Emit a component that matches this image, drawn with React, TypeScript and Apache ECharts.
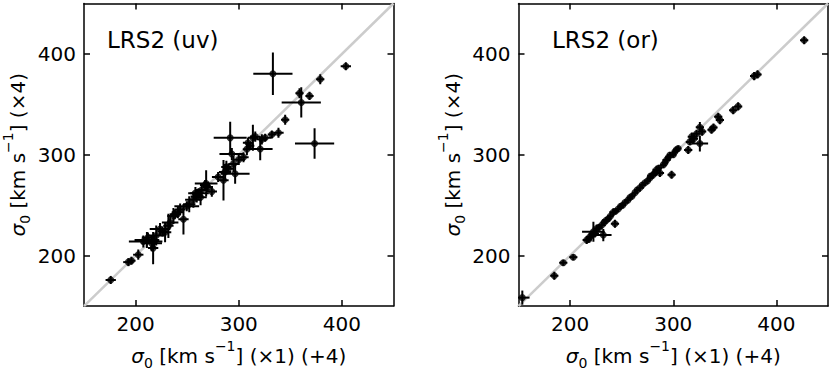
import React, { useEffect, useRef } from "react";
import * as echarts from "echarts";

// LRS2 (uv): [x, y, xErr, yErr]
const uvPoints: number[][] = [
  [175.9, 175.9, 5, 4], [193, 193.6, 5, 4], [196, 195, 4, 4], [202.6, 201, 5, 5],
  [207.5, 214, 14, 6], [211, 215.5, 12, 8], [215.6, 212.4, 10, 8], [217, 207.5, 5, 16],
  [220, 220, 8, 10], [223.7, 226.4, 10, 6], [228.6, 223.2, 6, 10], [231.8, 229.6, 5, 12],
  [233.5, 232.9, 8, 6], [236.7, 239.3, 6, 8], [243.2, 245.8, 5, 6], [246.4, 236.1, 5, 15],
  [249.6, 249, 12, 5], [256, 255.5, 8, 8], [259.3, 258.7, 6, 6], [261, 261.9, 10, 5],
  [264.1, 265.1, 6, 6], [267.4, 270, 5, 5], [268.4, 271.6, 11, 13], [273.9, 263.5, 5, 5],
  [285.2, 274.8, 5, 20], [286.8, 282.9, 6, 8], [290, 286.2, 5, 5], [293.3, 300.7, 12, 6],
  [294.9, 291, 5, 8], [296.5, 281.3, 14, 10], [291.7, 316.8, 16, 16], [304.6, 297.5, 5, 5],
  [307.9, 305.6, 4, 6], [311.1, 308.9, 4, 4], [313.7, 316.9, 5, 13], [320.8, 305.7, 12, 11],
  [322.4, 315.3, 5, 5], [325.6, 316.9, 6, 4], [332.1, 320.2, 4, 4], [338.5, 321.8, 5, 5],
  [345, 334.7, 4, 5], [333.1, 380.4, 19, 21], [358.9, 361, 4, 5], [360.6, 351.9, 19, 15],
  [368.6, 358.4, 4, 4], [373.5, 311.2, 19, 15], [379, 374.9, 4, 5], [403.8, 387.8, 5, 4],
  [212, 218, 6, 5], [218, 214, 8, 6], [226, 224, 5, 5], [238, 241, 5, 5],
  [241, 243, 6, 6], [252, 251, 6, 8], [258, 262, 5, 6], [263, 258, 6, 8],
  [270, 268, 5, 5], [280, 278, 6, 5], [288, 288, 5, 6], [300, 295, 6, 5],
  [309, 312, 5, 5], [316, 318, 5, 5],
];

// LRS2 (or): [x, y, xErr, yErr]
const orPoints: number[][] = [
  [153.7, 158.4, 7, 7], [184.7, 180.1, 4, 4], [193.4, 193, 4, 3], [203.1, 198.5, 4, 3],
  [216.1, 215.6, 4, 4], [219.3, 218.8, 4, 4], [222.6, 223.7, 11, 10], [225.8, 226.9, 4, 4],
  [232.2, 220.4, 8, 6], [230.6, 230.1, 4, 4], [237, 236.6, 3, 3], [243.5, 231.7, 4, 4],
  [241.9, 243, 4, 4], [246.7, 246.3, 3, 3], [253.2, 252.7, 3, 3], [258, 257.6, 3, 3],
  [262.9, 262.5, 3, 3], [267.7, 267.3, 4, 4], [272.6, 272.2, 3, 3], [277.4, 277.1, 3, 3],
  [280.6, 280.3, 4, 4], [283.8, 285.2, 4, 4], [287.1, 281.9, 4, 4], [290.3, 290, 3, 3],
  [293.5, 294.9, 4, 4], [296.8, 299.8, 3, 3], [298.4, 280.3, 4, 4], [301.6, 303.1, 3, 3],
  [304.8, 306.3, 3, 3], [314.5, 304.7, 4, 4], [316.1, 312.8, 4, 3], [322.6, 320.9, 4, 4],
  [325.8, 327.4, 4, 5], [325.8, 311.2, 8, 8], [337.1, 324.8, 4, 4], [343.6, 337.7, 4, 4],
  [345.2, 334.4, 4, 4], [358.1, 344.1, 4, 4], [362.9, 348, 4, 4], [378.4, 378, 4, 4],
  [381.7, 379.7, 4, 4], [426.9, 413.6, 4, 4],
  [218, 216, 3, 3], [221, 221, 3, 4], [224, 222, 4, 4], [228, 228, 3, 3],
  [233, 233, 3, 3], [235, 235, 4, 3], [239, 239, 3, 3], [244, 244, 3, 3],
  [249, 249, 3, 3], [251, 250, 3, 3], [256, 255, 3, 3], [260, 259, 3, 3],
  [265, 265, 3, 3], [270, 270, 3, 3], [275, 274, 3, 3], [278, 279, 3, 3],
  [282, 282, 3, 3], [286, 287, 3, 3], [292, 292, 3, 3], [295, 297, 3, 3],
  [300, 300, 3, 3], [303, 305, 3, 3], [318, 318, 4, 4], [320, 316, 4, 4],
  [328, 323, 4, 4], [339, 327, 4, 4],
];

const tickValues = [200, 300, 400];
const axisRange = [150, 450];
const panelTitles = ["LRS2 (uv)", "LRS2 (or)"];
const xName = "{i|σ}{sub|0} [km s{sup|−1}] (×1) (+4)";
const yName = "{i|σ}{sub|0} [km s{sup|−1}] (×4)";

const FONT = "DejaVu Sans";

const richStyles = {
  i: { fontFamily: FONT, fontStyle: "italic", fontSize: 20, color: "#000" },
  sub: { fontFamily: FONT, fontSize: 14, color: "#000", verticalAlign: "bottom", padding: [0, 0, -4, 0] },
  sup: { fontFamily: FONT, fontSize: 14, color: "#000", verticalAlign: "top", padding: [-7, 0, 0, 0] },
};

export default function App() {
  const ref = useRef<HTMLDivElement>(null);
  useEffect(() => {
    if (!ref.current) return;
    const chart = echarts.init(ref.current, null, { renderer: "svg" });

    const grids = [
      { left: 84, top: 3.5, width: 309.5, height: 309.2 },
      { left: 518.5, top: 3.5, width: 309.5, height: 309.2 },
    ];

    const axisCommon = (labels: boolean) => ({
      type: "value",
      min: axisRange[0],
      max: axisRange[1],
      axisLine: { show: true, onZero: false, lineStyle: { color: "#000", width: 1.5 } },
      axisTick: { show: true, inside: true, length: 6, customValues: tickValues, lineStyle: { color: "#000", width: 1.5 } },
      axisLabel: {
        show: labels,
        customValues: tickValues,
        margin: 8,
        fontFamily: FONT,
        fontSize: 20,
        color: "#000",
      },
      splitLine: { show: false },
    });

    const xAxes: any[] = [];
    const yAxes: any[] = [];
    [0, 1].forEach((g) => {
      xAxes.push({
        ...axisCommon(true),
        gridIndex: g,
        position: "bottom",
        name: xName,
        nameLocation: "middle",
        nameGap: 36,
        nameTextStyle: { fontFamily: FONT, fontSize: 20, color: "#000", rich: richStyles },
      });
      xAxes.push({ ...axisCommon(false), gridIndex: g, position: "top" });
      yAxes.push({
        ...axisCommon(true),
        gridIndex: g,
        position: "left",
        name: yName,
        nameLocation: "middle",
        nameRotate: 90,
        nameGap: 56,
        nameTextStyle: { fontFamily: FONT, fontSize: 20, color: "#000", rich: richStyles },
      });
      yAxes.push({ ...axisCommon(false), gridIndex: g, position: "right" });
    });

    const errSeries = (data: number[][], idx: number) => ({
      type: "custom",
      xAxisIndex: idx * 2,
      yAxisIndex: idx * 2,
      clip: true,
      z: 3,
      data,
      encode: { x: 0, y: 1 },
      renderItem: (_p: any, api: any) => {
        const x = api.value(0), y = api.value(1), ex = api.value(2), ey = api.value(3);
        const l = api.coord([x - ex, y]);
        const r = api.coord([x + ex, y]);
        const t = api.coord([x, y + ey]);
        const b = api.coord([x, y - ey]);
        return {
          type: "group",
          children: [
            { type: "line", shape: { x1: l[0], y1: l[1], x2: r[0], y2: r[1] }, style: { stroke: "#000", lineWidth: 2 } },
            { type: "line", shape: { x1: t[0], y1: t[1], x2: b[0], y2: b[1] }, style: { stroke: "#000", lineWidth: 2 } },
          ],
        };
      },
    });

    const pointSeries = (data: number[][], idx: number) => ({
      type: "scatter",
      xAxisIndex: idx * 2,
      yAxisIndex: idx * 2,
      data: data.map((d) => [d[0], d[1]]),
      symbol: "circle",
      symbolSize: 7,
      itemStyle: { color: "#000" },
      z: 4,
      clip: true,
    });

    const diag = (idx: number) => ({
      type: "line",
      xAxisIndex: idx * 2,
      yAxisIndex: idx * 2,
      data: [[axisRange[0], axisRange[0]], [axisRange[1], axisRange[1]]],
      symbol: "none",
      lineStyle: { color: "#cccccc", width: 2.5 },
      z: 1,
      silent: true,
    });

    chart.setOption({
      animation: false,
      grid: grids,
      xAxis: xAxes,
      yAxis: yAxes,
      series: [
        diag(0), errSeries(uvPoints, 0), pointSeries(uvPoints, 0),
        diag(1), errSeries(orPoints, 1), pointSeries(orPoints, 1),
      ],
      graphic: [
        { type: "text", left: 107, top: 28, style: { text: panelTitles[0], fontFamily: FONT, fontSize: 23, fill: "#000" } },
        { type: "text", left: 552, top: 28, style: { text: panelTitles[1], fontFamily: FONT, fontSize: 23, fill: "#000" } },
      ],
    });

    return () => chart.dispose();
  }, []);

  return <div ref={ref} style={{ width: 830, height: 375, position: "absolute", left: 0, top: 0 }} />;
}
